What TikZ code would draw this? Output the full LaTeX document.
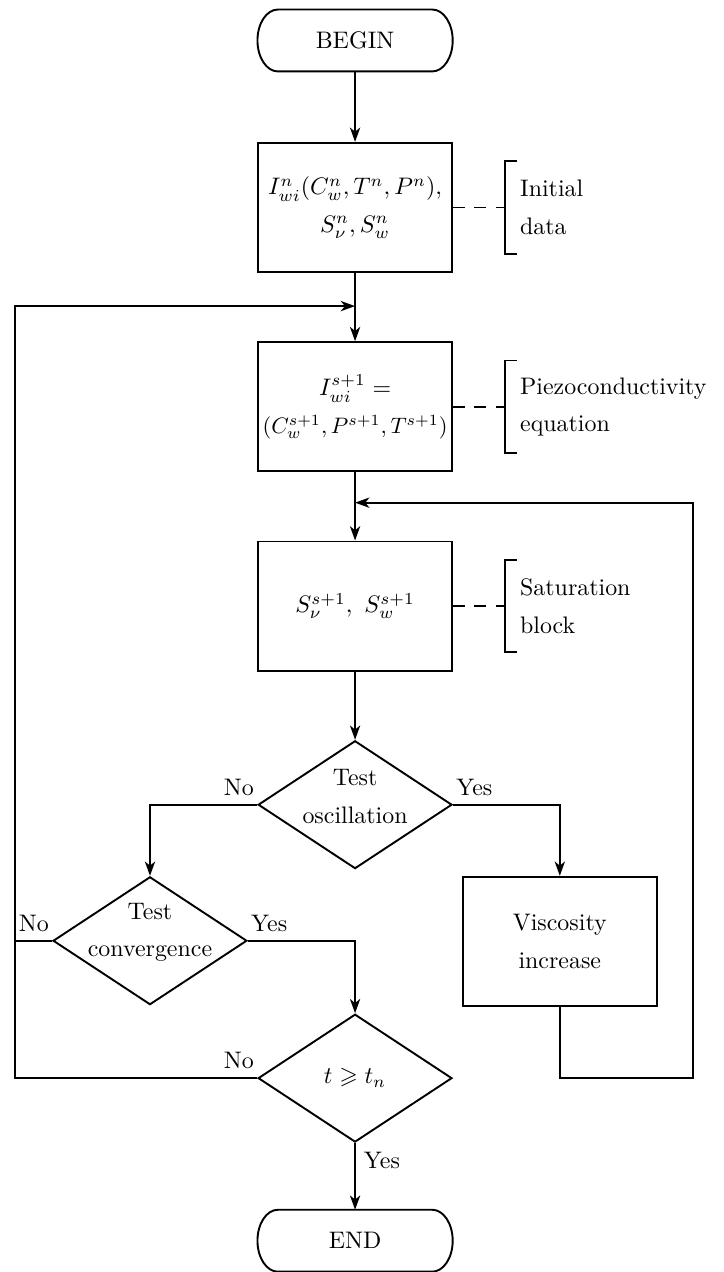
\documentclass[tikz,border=0pt]{standalone}
\usepackage{amssymb}
\usetikzlibrary{shapes.geometric,arrows.meta}

\tikzset{
  block/.style={draw, thick, rectangle, minimum width=2.85cm, minimum height=1.9cm, inner sep=1pt, align=center},
  terminal/.style={rectangle, minimum width=2.87cm, minimum height=0.91cm, outer sep=0pt},
  decision/.style={draw, thick, diamond, minimum width=2.85cm, minimum height=1.88cm, inner sep=0pt},
  txt/.style={align=center, font=\linespread{1.3}\selectfont},
  note/.style={anchor=west, inner sep=0pt, align=left, font=\linespread{1.3}\selectfont},
  arr/.style={thick, -{Stealth[length=2.1mm,width=1.5mm,inset=0.6mm]}},
  line/.style={thick},
  dashline/.style={thick, dash pattern=on 5pt off 4pt},
  lab/.style={inner xsep=1pt}
}

% outline with round ends for BEGIN / END
\newcommand{\stadium}[1]{%
  \draw[line] ([xshift=0.3cm]#1.north west) -- ([xshift=-0.3cm]#1.north east)
    arc[start angle=90, end angle=-90, x radius=0.3cm, y radius=0.455cm]
    -- ([xshift=0.3cm]#1.south west)
    arc[start angle=270, end angle=90, x radius=0.3cm, y radius=0.455cm] -- cycle;}

\begin{document}
\begin{tikzpicture}
    \useasboundingbox (0,0) rectangle (10.63,-18.70);

    \node[terminal] (start) at (5.22,-0.595) {BEGIN};
    \node[block, txt] (init) at (5.22,-3.05) {$I^n_{wi}(C^n_w, T^n, P^n),$\\ $S^n_\nu, S^n_w$};
    \node[block, txt] (piezo) at (5.22,-5.98) {$I^{s+1}_{wi} =$\\ \resizebox{2.72cm}{!}{$(C^{s+1}_w, P^{s+1}, T^{s+1})$}};
    \node[block] (sat) at (5.22,-8.91) {$S^{s+1}_\nu,\ S^{s+1}_w$};
    \node[decision, label={[txt, yshift=0.12cm]center:Test\\oscillation}] (osc) at (5.22,-11.83) {};
    \node[decision, label={[txt, yshift=0.12cm]center:Test\\convergence}] (conv) at (2.205,-13.83) {};
    \node[block, txt] (visc) at (8.23,-13.84) {Viscosity\\increase};
    \node[decision] (time) at (5.22,-15.85) {$t \geqslant t_n$};
    \node[terminal] (stop) at (5.22,-18.24) {END};
    \stadium{start}
    \stadium{stop}

    \coordinate (join1) at (5.22,-4.50);
    \coordinate (join2) at (5.22,-7.39);
    \coordinate (left) at (0.22,-4.50);
    \coordinate (right) at (10.19,-7.39);

    % main column
    \draw[arr] (start) -- (init);
    \draw[arr] (init) -- (piezo);
    \draw[arr] (piezo) -- (sat);
    \draw[arr] (sat) -- (osc);
    \draw[arr] (time.south) node[below right] {Yes} -- (stop);

    % branches
    \draw[arr] (osc.west) node[lab, above left] {No} -| (conv.north);
    \draw[arr] (osc.east) node[lab, above right] {Yes} -| (visc.north);
    \draw[arr] (conv.east) node[lab, above right] {Yes} -| (time.north);
    \draw[line] (conv.west) node[lab, above left] {No} -- (conv.west -| left);
    \draw[arr] (time.west) node[lab, above left] {No} -| (left) -- (join1);
    \draw[arr] (visc.south) |- (time.east -| right) -- (right) -- (join2);

    % notes
    \coordinate (b1) at (7.42,-3.05);
    \coordinate (b2) at (7.42,-5.98);
    \coordinate (b3) at (7.42,-8.91);
    \draw[dashline] (init.east) -- (b1);
    \draw[dashline] (piezo.east) -- (b2);
    \draw[dashline] (sat.east) -- (b3);
    \draw[line] (7.60,-2.37) -| (b1) |- (7.60,-3.73);
    \draw[line] (7.60,-5.30) -| (b2) |- (7.60,-6.66);
    \draw[line] (7.60,-8.23) -| (b3) |- (7.60,-9.59);
    \node[note] (initnote) at (7.64,-3.05) {Initial\\data};
    \node[note] (piezonote) at (7.64,-5.98) {Piezoconductivity\\equation};
    \node[note] (satnote) at (7.64,-8.91) {Saturation\\block};

\end{tikzpicture}
\end{document}
